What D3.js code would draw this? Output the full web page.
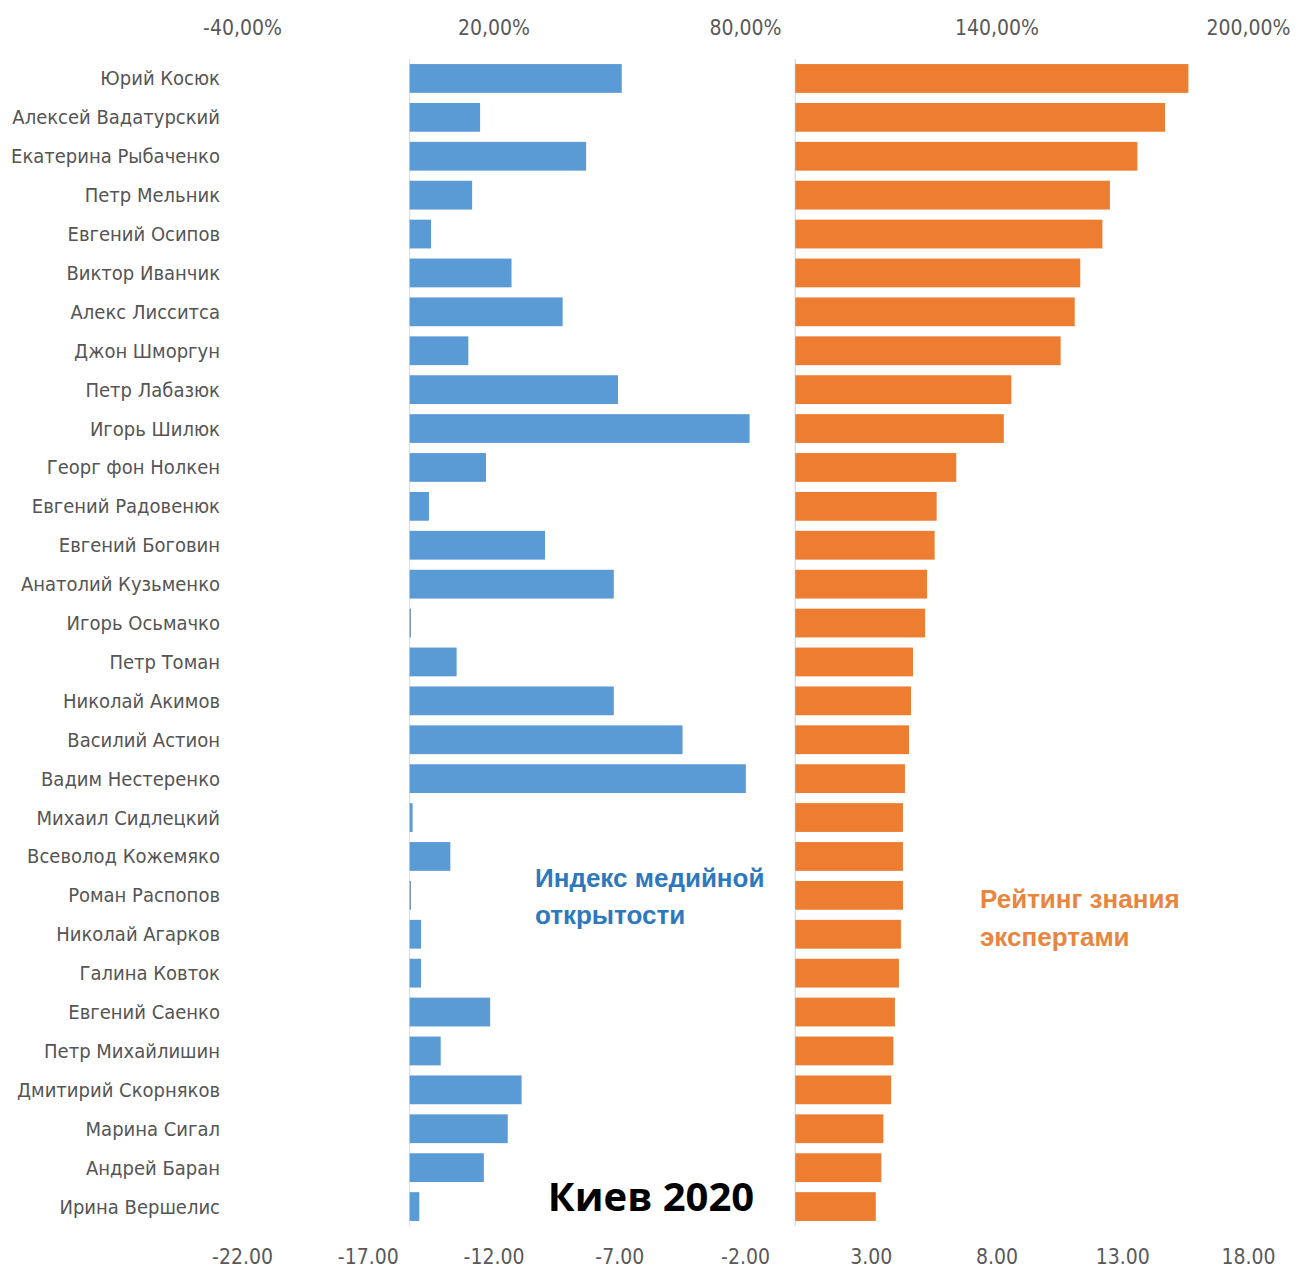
<!DOCTYPE html>
<html><head><meta charset="utf-8">
<script src="https://cdn.jsdelivr.net/npm/d3@7"></script>
<style>
html,body{margin:0;padding:0;background:#fff;}
svg{display:block;}
.lab{font-family:"Liberation Sans Narrow","Arial Narrow","DejaVu Sans Condensed",sans-serif;font-stretch:condensed;}
</style></head>
<body>
<svg id="chart" width="1303" height="1268"></svg>
<script>
const names = ["Юрий Косюк","Алексей Вадатурский","Екатерина Рыбаченко","Петр Мельник","Евгений Осипов","Виктор Иванчик","Алекс Лисситса","Джон Шморгун","Петр Лабазюк","Игорь Шилюк","Георг фон Нолкен","Евгений Радовенюк","Евгений Боговин","Анатолий Кузьменко","Игорь Осьмачко","Петр Томан","Николай Акимов","Василий Астион","Вадим Нестеренко","Михаил Сидлецкий","Всеволод Кожемяко","Роман Распопов","Николай Агарков","Галина Ковток","Евгений Саенко","Петр Михайлишин","Дмитирий Скорняков","Марина Сигал","Андрей Баран","Ирина Вершелис"];
// Индекс медийной открытости, %
const mediaIndex = [50.6,16.8,42.1,14.9,5.1,24.3,36.5,14.0,49.7,81.1,18.2,4.6,32.3,48.7,0.3,11.2,48.7,65.1,80.2,0.7,9.7,0.3,2.7,2.7,19.2,7.4,26.7,23.4,17.7,2.3];
// Рейтинг знания экспертами
const expertRating = [15.63,14.70,13.60,12.51,12.21,11.33,11.11,10.55,8.59,8.29,6.40,5.62,5.54,5.24,5.16,4.68,4.60,4.52,4.36,4.28,4.28,4.28,4.20,4.12,3.96,3.90,3.81,3.50,3.42,3.20];
const topTicks = [-40,20,80,140,200];
const bottomTicks = [-22,-17,-12,-7,-2,3,8,13,18];

const svg = d3.select("#chart");
const x0 = 242, x1 = 1248;
const xTop = d3.scaleLinear().domain([-40,200]).range([x0,x1]);
const xBot = d3.scaleLinear().domain([-22,18]).range([x0,x1]);
const y = d3.scaleBand().domain(names).range([59,1226]).paddingInner(0.26).paddingOuter(0.13);

// zero axis lines
svg.append("line").attr("x1",xTop(0)).attr("x2",xTop(0)).attr("y1",59).attr("y2",1226)
  .attr("stroke","#d9d9d9").attr("stroke-width",1);
svg.append("line").attr("x1",xBot(0)).attr("x2",xBot(0)).attr("y1",59).attr("y2",1226)
  .attr("stroke","#d6dce5").attr("stroke-width",1.5);

// blue bars
svg.append("g").selectAll("rect").data(names).join("rect")
  .attr("x",(d,i)=>xTop(Math.min(0,mediaIndex[i])))
  .attr("y",d=>y(d))
  .attr("width",(d,i)=>Math.max(1,Math.abs(xTop(mediaIndex[i])-xTop(0))))
  .attr("height",y.bandwidth())
  .attr("fill",(d,i)=>mediaIndex[i]<0.5?"#6f8fb0":"#5b9bd5");

// orange bars
svg.append("g").selectAll("rect").data(names).join("rect")
  .attr("x",(d,i)=>xBot(0))
  .attr("y",d=>y(d))
  .attr("width",(d,i)=>xBot(expertRating[i])-xBot(0))
  .attr("height",y.bandwidth())
  .attr("fill","#ed7d31");

// category labels
svg.append("g").selectAll("text").data(names).join("text")
  .attr("class","lab")
  .attr("x",220).attr("y",d=>y(d)+y.bandwidth()/2)
  .attr("dy","0.35em").attr("text-anchor","end")
  .attr("font-size",20).attr("fill","#555555")
  .text(d=>d);

// top axis
const gTop = svg.append("g").attr("transform","translate(0,35)")
  .call(d3.axisTop(xTop).tickValues(topTicks).tickSize(0).tickPadding(0)
    .tickFormat(d=>d.toFixed(2).replace(".",",")+"%"));
gTop.select(".domain").remove();
gTop.selectAll("text").attr("class","lab").attr("font-size",21).attr("fill","#595959");

// bottom axis
const gBot = svg.append("g").attr("transform","translate(0,1249)")
  .call(d3.axisBottom(xBot).tickValues(bottomTicks).tickSize(0).tickPadding(0)
    .tickFormat(d=>d.toFixed(2)));
gBot.select(".domain").remove();
gBot.selectAll("text").attr("class","lab").attr("font-size",21).attr("fill","#595959")
  .attr("dy","0.71em");

// annotations
const ann = svg.append("g").attr("font-family","'Liberation Sans',Arial,sans-serif").attr("font-weight","bold");
ann.append("text").attr("x",535).attr("y",887).attr("font-size",26).attr("fill","#2e78bd").text("Индекс медийной");
ann.append("text").attr("x",535).attr("y",924).attr("font-size",26).attr("fill","#2e78bd").text("открытости");
ann.append("text").attr("x",980).attr("y",908).attr("font-size",26).attr("fill","#e8853f").text("Рейтинг знания");
ann.append("text").attr("x",980).attr("y",946).attr("font-size",26).attr("fill","#e8853f").text("экспертами");
svg.append("text").attr("x",651).attr("y",1211).attr("text-anchor","middle")
  .attr("font-family","'Open Sans',sans-serif").attr("font-weight","bold")
  .attr("font-size",40).attr("fill","#000").text("Киев 2020");
</script>
</body></html>
